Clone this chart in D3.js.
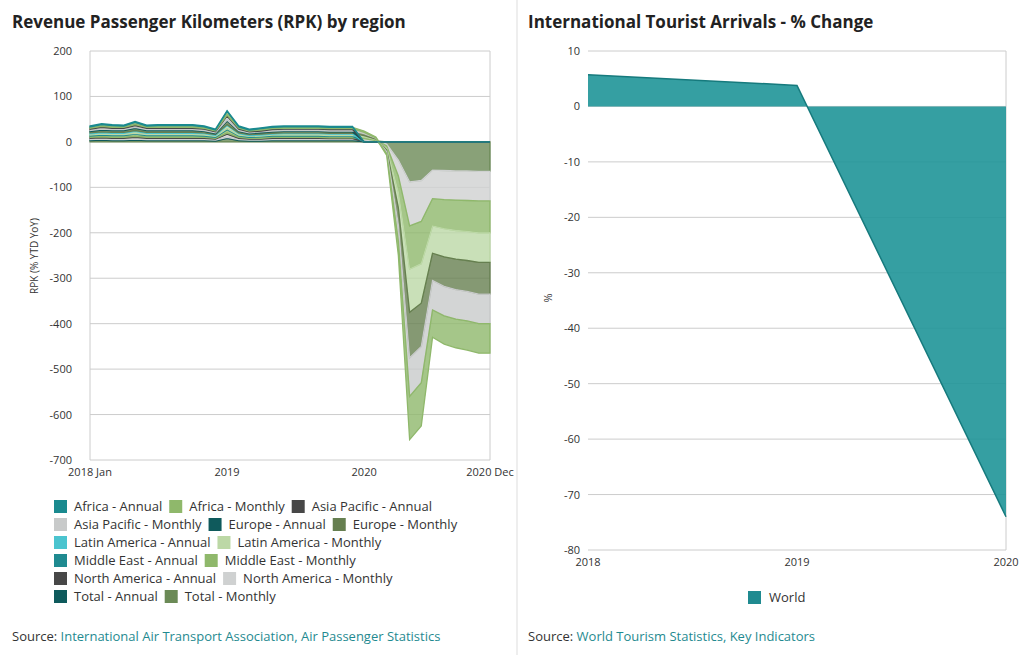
<!DOCTYPE html>
<html><head><meta charset="utf-8">
<script src="https://cdn.jsdelivr.net/npm/d3@7/dist/d3.min.js"></script>
<style>body{margin:0;background:#fff;font-family:"Open Sans",sans-serif}</style>
</head><body><svg id="c" width="1024" height="655"></svg>
<script>
// ---------- Left chart data (monthly, 2018 Jan .. 2020 Dec) ----------
const months = d3.range(36).map(i => new Date(2018, i, 1));
const seriesNames = ["Africa - Annual","Africa - Monthly","Asia Pacific - Annual","Asia Pacific - Monthly","Europe - Annual","Europe - Monthly","Latin America - Annual","Latin America - Monthly","Middle East - Annual","Middle East - Monthly","North America - Annual","North America - Monthly","Total - Annual","Total - Monthly"];
const seriesColors = ["#1a8a8f","#8fb86b","#474747","#c8caca","#0f5a5c","#667f50","#4bc4cf","#bcd8a6","#1f8a90","#8fb86b","#474747","#cfd1d1","#0e5a5c","#6b8a56"];
// annual values per year (2018, 2019, 2020)
const africaAnnual = [2,2,0], asiaAnnual = [2,2,0], europeAnnual = [2,2,0], latamAnnual = [2,2,0], meAnnual = [2,2,0], naAnnual = [2,2,0], totalAnnual = [2,2,0];
const africaMonthly = [3,4,4,3,5,3,4,4,4,4,3,2, 8,3,2,3,3,3,3,3,3,3,3,3, 3,2,-4,-32,-95,-95,-60,-62,-63,-64,-65,-65];
const asiaMonthly   = [3,4,3,3,4,3,3,3,3,3,3,2, 9,3,2,2,3,3,3,3,3,3,3,3, 3,1,-4,-35,-85,-80,-65,-65,-65,-65,-65,-65];
const europeMonthly = [3,4,4,4,5,4,4,4,4,4,3,2, 8,3,2,3,3,3,3,3,3,3,3,3, 4,2,-4,-38,-100,-95,-60,-65,-67,-68,-70,-70];
const latamMonthly  = [3,3,3,3,4,3,3,3,3,3,3,2, 7,3,2,2,2,3,3,3,3,3,3,3, 3,1,-4,-34,-95,-87,-60,-62,-63,-64,-65,-65];
const meMonthly     = [3,4,4,4,5,4,4,4,4,4,3,2, 8,3,2,3,3,3,3,3,3,3,3,3, 4,2,-5,-36,-95,-93,-60,-64,-67,-68,-70,-70];
const naMonthly     = [3,3,3,3,4,3,3,3,3,3,3,2, 7,3,2,2,3,3,3,3,3,2,2,2, 3,1,-4,-35,-97,-90,-63,-64,-64,-65,-65,-65];
const totalMonthly  = [3,4,3,3,4,3,3,3,3,3,3,2, 8,3,2,2,3,3,3,3,3,3,3,3, 4,2,-5,-40,-88,-85,-62,-63,-64,-64,-65,-65];
const annuals = [africaAnnual, asiaAnnual, europeAnnual, latamAnnual, meAnnual, naAnnual, totalAnnual];
const monthlies = [africaMonthly, asiaMonthly, europeMonthly, latamMonthly, meMonthly, naMonthly, totalMonthly];
const leftTicks = [200,100,0,-100,-200,-300,-400,-500,-600,-700];

// ---------- Right chart data ----------
const worldYears = [2018, 2019, 2020];
const worldChange = [5.7, 3.8, -74];
const rightTicks = [10,0,-10,-20,-30,-40,-50,-60,-70,-80];

const svg = d3.select("#c");
const txt = "#333";
// panel frames
svg.append("line").attr("x1",517).attr("x2",517).attr("y1",0).attr("y2",655).attr("stroke","#ddd");
svg.append("text").attr("x",12).attr("y",28).attr("font-size",17).attr("font-weight",700).attr("fill","#222").text("Revenue Passenger Kilometers (RPK) by region");
svg.append("text").attr("x",528).attr("y",28).attr("font-size",17).attr("font-weight",700).attr("fill","#222").text("International Tourist Arrivals - % Change");

// ---------- Left chart ----------
const x = d3.scaleTime().domain([months[0], months[35]]).range([90,490]);
const y = d3.scaleLinear().domain([-700,200]).range([460,51]);
const gl = svg.append("g");
leftTicks.forEach(t => {
  gl.append("line").attr("x1",90).attr("x2",490).attr("y1",y(t)).attr("y2",y(t)).attr("stroke","#ccc");
  gl.append("text").attr("x",72).attr("y",y(t)+4).attr("text-anchor","end").attr("font-size",11).attr("fill",txt).text(t);
});
gl.append("line").attr("x1",490).attr("x2",490).attr("y1",51).attr("y2",460).attr("stroke","#ccc");
gl.append("line").attr("x1",90).attr("x2",90).attr("y1",51).attr("y2",460).attr("stroke","#ccc");
const table = months.map((m,i) => {
  const row = {date:m};
  seriesNames.forEach((n,k) => {
    const r = Math.floor(k/2);
    row[n] = k%2===0 ? annuals[r][Math.floor(i/12)] : monthlies[r][i];
  });
  return row;
});
const stack = d3.stack().keys(seriesNames.slice().reverse()).offset(d3.stackOffsetDiverging)(table);
const area = d3.area().x(d=>x(d.data.date)).y0(d=>y(d[0])).y1(d=>y(d[1]));
stack.forEach(s => {
  const k = seriesNames.indexOf(s.key);
  gl.append("path").attr("d",area(s)).attr("fill",seriesColors[k]).attr("fill-opacity",0.8)
    .attr("stroke",seriesColors[k]).attr("stroke-width",1.3);
});
[[months[0],"2018 Jan"],[new Date(2019,0,1),"2019"],[new Date(2020,0,1),"2020"],[months[35],"2020 Dec"]].forEach(([d,l]) => {
  gl.append("text").attr("x",x(d)).attr("y",476).attr("text-anchor","middle").attr("font-size",11).attr("fill",txt).text(l);
});
gl.append("text").attr("transform","translate(38,256) rotate(-90)").attr("text-anchor","middle").attr("font-size",10).attr("fill",txt).text("RPK (% YTD YoY)");

// legend
const legendRows = [[0,1,2],[3,4,5],[6,7],[8,9],[10,11],[12,13]];
const lg = svg.append("g");
legendRows.forEach((row,ri) => {
  let cx = 54;
  row.forEach(k => {
    const yy = 507 + ri*18;
    lg.append("rect").attr("x",cx).attr("y",yy-7).attr("width",13).attr("height",13).attr("fill",seriesColors[k]);
    const t = lg.append("text").attr("x",cx+20).attr("y",yy+4).attr("font-size",13).attr("fill",txt).text(seriesNames[k]);
    cx += 20 + t.node().getComputedTextLength() + 7;
  });
});
svg.append("text").attr("x",12).attr("y",641).attr("font-size",13).attr("fill",txt)
  .html('Source: <tspan fill="#1f8a90">International Air Transport Association, Air Passenger Statistics</tspan>');

// ---------- Right chart ----------
const x2 = d3.scaleLinear().domain([2018,2020]).range([588,1006]);
const y2 = d3.scaleLinear().domain([-80,10]).range([550,51]);
const gr = svg.append("g");
rightTicks.forEach(t => {
  gr.append("line").attr("x1",588).attr("x2",1006).attr("y1",y2(t)).attr("y2",y2(t)).attr("stroke","#ccc");
  gr.append("text").attr("x",580).attr("y",y2(t)+4).attr("text-anchor","end").attr("font-size",11).attr("fill",txt).text(t);
});
gr.append("line").attr("x1",1006).attr("x2",1006).attr("y1",51).attr("y2",550).attr("stroke","#ccc");
const wd = worldYears.map((yr,i)=>({yr, v:worldChange[i]}));
gr.append("path").attr("d", d3.area().x(d=>x2(d.yr)).y0(y2(0)).y1(d=>y2(d.v))(wd))
  .attr("fill","#1f9598").attr("fill-opacity",0.9);
gr.append("path").attr("d", d3.line().x(d=>x2(d.yr)).y(d=>y2(d.v))(wd)).attr("fill","none").attr("stroke","#167a7d").attr("stroke-width",1.5);
worldYears.forEach(yr => gr.append("text").attr("x",x2(yr)).attr("y",566).attr("text-anchor","middle").attr("font-size",11).attr("fill",txt).text(yr));
gr.append("text").attr("transform","translate(552,298) rotate(-90)").attr("text-anchor","middle").attr("font-size",11).attr("fill",txt).text("%");
gr.append("rect").attr("x",748).attr("y",591).attr("width",13).attr("height",13).attr("fill","#1f8a90");
gr.append("text").attr("x",769).attr("y",602).attr("font-size",13).attr("fill",txt).text("World");
svg.append("text").attr("x",528).attr("y",641).attr("font-size",13).attr("fill",txt)
  .html('Source: <tspan fill="#1f8a90">World Tourism Statistics, Key Indicators</tspan>');
</script></body></html>
